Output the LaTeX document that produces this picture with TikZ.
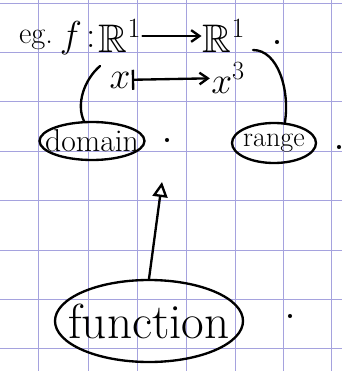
\RequirePackage{fix-cm}
\documentclass[tikz,border=0pt]{standalone}
\usepackage{amsmath,amssymb}
\usetikzlibrary{arrows.meta,shapes.geometric}

\begin{document}
\begin{tikzpicture}[
  x=0.03cm, y=-0.03cm,
  gridline/.style={draw={rgb,255:red,165;green,162;blue,222}, line width=0.5pt},
  ink/.style={draw=black, line width=2pt, line cap=round, line join=round},
  bigtxt/.style={font=\fontsize{32}{36}\selectfont, inner sep=1pt},
  blob/.style={ellipse, draw=black, line width=2pt, inner sep=0pt},
  word/.style={font=\fontsize{#1}{#1}\selectfont, inner sep=0pt},
  dotm/.style={circle, fill=black, inner sep=0pt, minimum size=3.5pt}
]
\useasboundingbox (0,0) rectangle (342,371);
\fill[white] (0,0) rectangle (342,371);

% squared paper
\foreach \gx in {38,88,137,186,235,283,331}
  \draw[gridline] (\gx,0) -- (\gx,371);
\foreach \gy in {3,52,101,151,200,250,299,348}
  \draw[gridline] (0,\gy) -- (342,\gy);

% first line
\node[bigtxt, font=\fontsize{26}{30}\selectfont] (eg) at (36,40) {eg.};
\node[bigtxt] (f) at (84,38) {$f\colon$};
\node[bigtxt, font=\fontsize{34}{38}\selectfont] (Rdom) at (120,36) {$\mathbb{R}^1$};
\node[bigtxt, font=\fontsize{34}{38}\selectfont] (Rcod) at (224,36) {$\mathbb{R}^1$};
\node[dotm] (stop1) at (277,42) {};
\draw[ink, -{Straight Barb[length=2.5mm,width=3.5mm]}] (Rdom) -- (Rcod);

% second line
\node[bigtxt] (xin) at (120,80) {$x$};
\node[bigtxt] (xout) at (228,78) {$x^3$};
\draw[ink, {Bar[width=6mm]}-{Straight Barb[length=2.5mm,width=3.5mm]}] (xin) -- (xout);

% labels
\node[blob, minimum width=3.15cm, minimum height=1.14cm,
  label={[word=27]center:domain}] (dom) at (92,141) {};
\node[blob, minimum width=2.52cm, minimum height=1.2cm,
  label={[word=24]center:range}] (rng) at (274,143) {};
\node[blob, minimum width=5.64cm, minimum height=2.46cm,
  label={[word=42]center:function}] (fun) at (149,321) {};

\node[dotm] (mid) at (167,140) {};
\node[dotm] (stop2) at (339,147) {};
\node[dotm] (stop3) at (290,316) {};

\coordinate (dtip) at (100,66);
\coordinate (rtip) at (253,50);
\coordinate (atip) at (162,182);

\draw[ink] (dom.112) .. controls (76,104) and (84,80) .. (dtip);
\draw[ink] (rtip) .. controls (278,50) and (290,90) .. (rng.62);
\draw[ink, -{Triangle[open,length=4.5mm,width=4.5mm]}] (fun.north) -- (atip);

\end{tikzpicture}
\end{document}
